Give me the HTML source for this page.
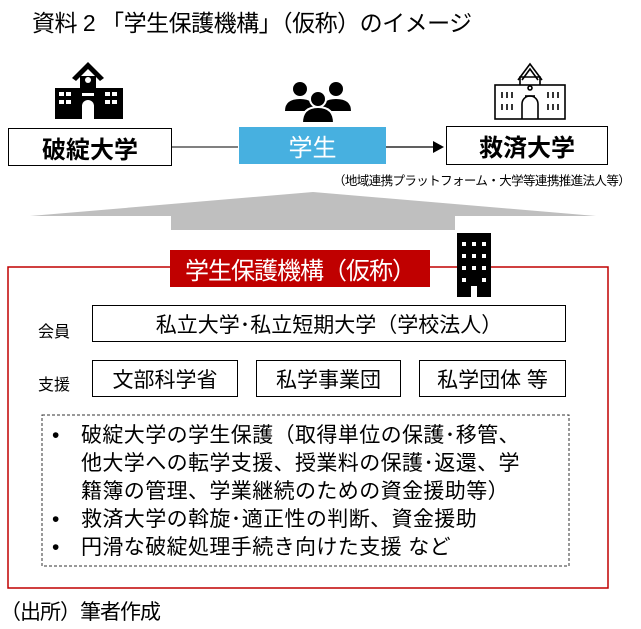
<!DOCTYPE html>
<html><head><meta charset="utf-8"><style>
body{margin:0;width:641px;height:629px;background:#fff;position:relative;overflow:hidden;font-family:"Liberation Sans","Noto Sans CJK JP",sans-serif;color:#000}
.a{position:absolute}
.box{position:absolute;border:1.5px solid #000;box-sizing:border-box;display:flex;align-items:center;justify-content:center;background:#fff}
.l{position:relative;padding-left:29px}
.l b{position:absolute;left:0;font-weight:normal}
</style></head><body>
<div class="a" style="left:32px;top:4px;font-size:23px;white-space:nowrap;letter-spacing:-0.5px">資料 2 「学生保護機構」（仮称）のイメージ</div>

<svg class="a" style="left:0;top:0" width="641" height="629">
 <g fill="#000">
  <polygon points="88,62 72,78 76,81 88,69 100,81 104,78"/>
  <rect x="80" y="76" width="16" height="12"/>
  <rect x="55" y="88" width="68" height="31"/>
 </g>
 <g fill="#fff">
  <circle cx="88" cy="80" r="3"/>
  <rect x="59" y="92" width="5" height="4"/><rect x="66" y="92" width="5" height="4"/>
  <rect x="59" y="100" width="5" height="4"/><rect x="66" y="100" width="5" height="4"/>
  <rect x="105" y="92" width="5" height="4"/><rect x="112" y="92" width="5" height="4"/>
  <rect x="105" y="100" width="5" height="4"/><rect x="112" y="100" width="5" height="4"/>
  <rect x="82" y="93" width="12" height="3"/>
  <path d="M82,119 V106 a6,6 0 0 1 12,0 V119Z"/>
 </g>
 <g fill="#000">
  <circle cx="300" cy="89" r="7"/><path d="M285,111 q0,-12 15,-12 q15,0 15,12Z"/>
  <circle cx="336" cy="89" r="7"/><path d="M321,111 q0,-12 15,-12 q15,0 15,12Z"/>
  <circle cx="318" cy="99" r="8" stroke="#fff" stroke-width="2"/><path d="M302,123 q0,-16 16,-16 q16,0 16,16Z" stroke="#fff" stroke-width="2"/>
 </g>
 <g fill="none" stroke="#000" stroke-width="1.6">
  <polyline points="518,80 530,64 542,80"/>
  <polyline points="522,80 530,69 538,80"/>
  <rect x="495" y="85" width="70" height="34"/>
  <polyline points="520,85 520,77 540,77 540,85"/>
  <path d="M522,119 V104 a8,8 0 0 1 16,0 V119"/>
  <circle cx="530" cy="88" r="2"/>
  <line x1="525" y1="96" x2="535" y2="96"/>
  <line x1="502" y1="92" x2="502" y2="98"/><line x1="507" y1="92" x2="507" y2="98"/><line x1="512" y1="92" x2="512" y2="98"/>
  <line x1="502" y1="104" x2="502" y2="110"/><line x1="507" y1="104" x2="507" y2="110"/><line x1="512" y1="104" x2="512" y2="110"/>
  <line x1="548" y1="92" x2="548" y2="98"/><line x1="553" y1="92" x2="553" y2="98"/><line x1="558" y1="92" x2="558" y2="98"/>
  <line x1="548" y1="104" x2="548" y2="110"/><line x1="553" y1="104" x2="553" y2="110"/><line x1="558" y1="104" x2="558" y2="110"/>
 </g>
 <line x1="171" y1="147" x2="238" y2="147" stroke="#000" stroke-width="1"/>
 <line x1="385" y1="147" x2="433" y2="147" stroke="#000" stroke-width="1.2"/>
 <polygon points="433,141 444,147 433,153" fill="#000"/>
 <polygon points="313,192 596,216 455,216 455,230 171,230 171,216 30,216" fill="#bfbfbf"/>
 <rect x="8" y="267" width="600" height="321" fill="none" stroke="#c00000" stroke-width="1.5"/>
 <rect x="42" y="415" width="527" height="151" fill="none" stroke="#333" stroke-width="1" stroke-dasharray="3,2"/>
 <rect x="457" y="233" width="34" height="64" fill="#000"/>
 <g fill="#fff">
  <rect x="462" y="242" width="4" height="4"/><rect x="472" y="242" width="4" height="4"/><rect x="482" y="242" width="4" height="4"/>
  <rect x="462" y="254" width="4" height="4"/><rect x="472" y="254" width="4" height="4"/><rect x="482" y="254" width="4" height="4"/>
  <rect x="462" y="266" width="4" height="4"/><rect x="472" y="266" width="4" height="4"/><rect x="482" y="266" width="4" height="4"/>
  <rect x="462" y="278" width="4" height="4"/><rect x="482" y="278" width="4" height="4"/>
  <rect x="471" y="286" width="6" height="11"/>
 </g>
</svg>

<div class="box" style="left:8px;top:128px;width:164px;height:38px;font-size:24px;font-weight:bold">破綻大学</div>
<div class="a" style="left:239px;top:127px;width:147px;height:37px;background:#47b0e0;color:#fff;font-size:24px;display:flex;align-items:center;justify-content:center">学生</div>
<div class="box" style="left:446px;top:126px;width:162px;height:39px;font-size:24px;font-weight:bold">救済大学</div>
<div class="a" style="left:333px;top:170px;font-size:12.5px;white-space:nowrap;letter-spacing:-0.6px">（地域連携プラットフォーム・大学等連携推進法人等）</div>

<div class="a" style="left:170px;top:250px;width:260px;height:37px;background:#c00000;color:#fff;font-size:24px;display:flex;align-items:center;justify-content:center;white-space:nowrap;letter-spacing:-1px">学生保護機構（仮称）</div>

<div class="a" style="left:38px;top:318px;font-size:16px">会員</div>
<div class="box" style="left:92px;top:305px;width:474px;height:37px;font-size:21px;border-width:1px;white-space:nowrap">私立大学･私立短期大学（学校法人）</div>
<div class="a" style="left:38px;top:371px;font-size:16px">支援</div>
<div class="box" style="left:92px;top:360px;width:146px;height:37px;font-size:21px;border-width:1px">文部科学省</div>
<div class="box" style="left:256px;top:360px;width:145px;height:37px;font-size:21px;border-width:1px">私学事業団</div>
<div class="box" style="left:419px;top:360px;width:147px;height:37px;font-size:21px;border-width:1px">私学団体 等</div>

<div class="a" style="left:52px;top:422px;font-size:21px;line-height:28px;white-space:nowrap;letter-spacing:0.4px">
<div class="l"><b>•</b>破綻大学の学生保護（取得単位の保護･移管、</div>
<div class="l">他大学への転学支援、授業料の保護･返還、学</div>
<div class="l">籍簿の管理、学業継続のための資金援助等）</div>
<div class="l"><b>•</b>救済大学の斡旋･適正性の判断、資金援助</div>
<div class="l"><b>•</b>円滑な破綻処理手続き向けた支援 など</div>
</div>

<div class="a" style="left:0px;top:596px;font-size:21px;white-space:nowrap;letter-spacing:-1px">（出所）筆者作成</div>
</body></html>
